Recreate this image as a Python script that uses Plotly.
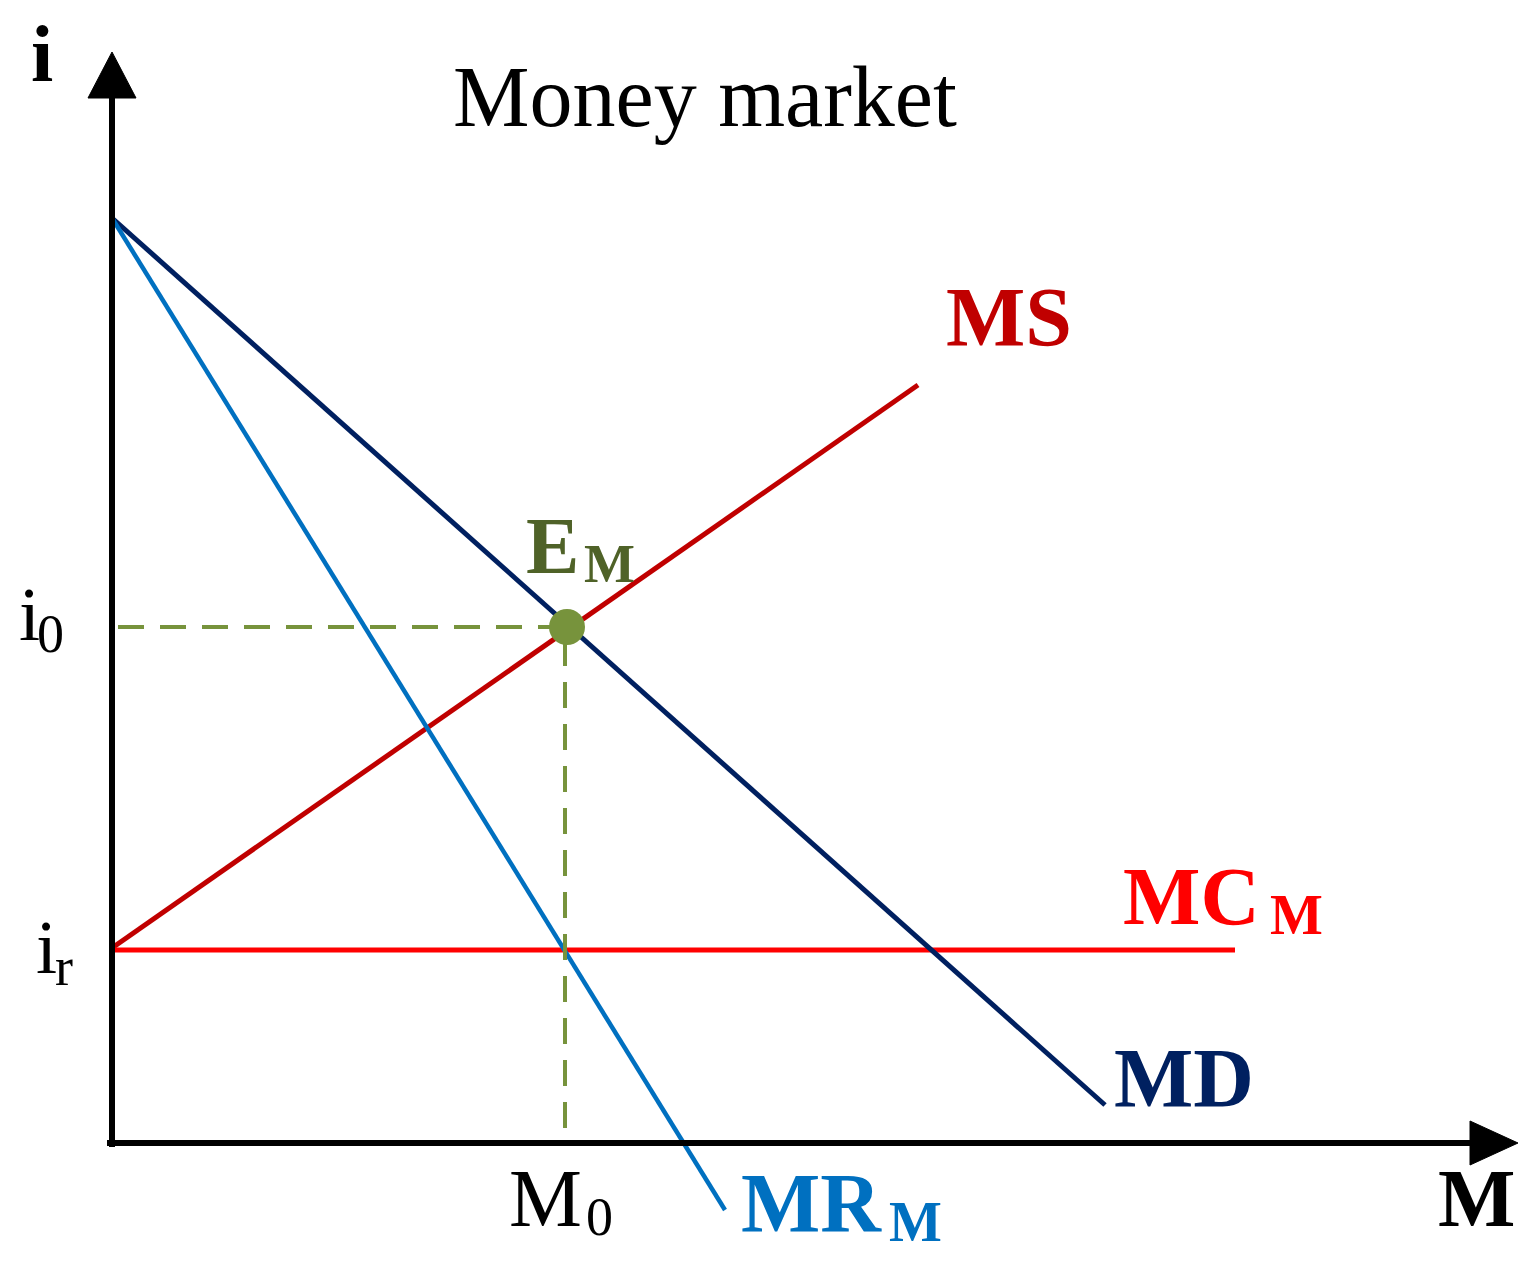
import plotly.graph_objects as go

W, H = 1535, 1270
FONT = "Liberation Serif"

# ---- data (economic units; origin at the axis corner) ----
md_x = [0.0, 9.93]
md_y = [9.25, 0.38]
mr_x = [0.0, 6.13]
mr_y = [9.25, -0.67]
ms_x = [0.0, 8.06]
ms_y = [1.95, 7.58]
mc_x = [0.0, 11.23]
mc_y = [1.93, 1.93]
e_x, e_y = 4.55, 5.16          # equilibrium E_M
m0 = 4.53                       # M0
i0 = 5.16                       # i0
ir = 1.93                       # ir

# view window: 1 unit = 100 px, origin at pixel (112, 1143)
OX, OY, S = 112, 1143, 100.0
X_RANGE = [(0 - OX) / S, (W - OX) / S]
Y_RANGE = [(OY - H) / S, OY / S]


def P(px, py):
    """pixel position -> data coordinates (for labels / decorations)"""
    return (px - OX) / S, (OY - py) / S


fig = go.Figure()

def line(x, y, color, width, dash=None):
    fig.add_trace(go.Scatter(x=x, y=y, mode="lines",
                             line=dict(color=color, width=width, dash=dash),
                             hoverinfo="skip", showlegend=False))

GREEN = "#77933C"
line(ms_x, ms_y, "#C00000", 5)
line(mc_x, mc_y, "#FF0000", 5)
line(md_x, md_y, "#002060", 5)
line(mr_x, mr_y, "#0070C0", 4.5)
# dashed guides from equilibrium
line([0.06, e_x - 0.12], [i0, i0], GREEN, 4, "26px,16px")
line([m0, m0], [i0 - 0.13, 0.15], GREEN, 4, "26px,16px")
fig.add_trace(go.Scatter(x=[e_x], y=[e_y], mode="markers",
                         marker=dict(size=36, color=GREEN),
                         hoverinfo="skip", showlegend=False))

# ---- axes with arrows ----
shapes = []
x0, y0 = P(112, 1147)
x1, y1 = P(112, 95)
shapes.append(dict(type="line", x0=0, y0=y0, x1=0, y1=y1,
                   line=dict(color="black", width=6)))
xa, _ = P(107, 0)
xb, _ = P(1476, 0)
shapes.append(dict(type="line", x0=xa, y0=0, x1=xb, y1=0,
                   line=dict(color="black", width=6)))

def tri(pts):
    d = "M " + " L ".join(f"{P(*p)[0]},{P(*p)[1]}" for p in pts) + " Z"
    return dict(type="path", path=d, fillcolor="black",
                line=dict(color="black", width=1))

shapes.append(tri([(112, 52), (88, 98), (136, 98)]))
shapes.append(tri([(1518, 1143), (1470, 1121), (1470, 1165)]))

# ---- labels ----
ann = []

def label(px, py, text, size, color="black", bold=False):
    x, y = P(px, py)
    t = f"<b>{text}</b>" if bold else text
    ann.append(dict(x=x, y=y, text=t, showarrow=False,
                    xanchor="center", yanchor="middle",
                    font=dict(family=FONT, size=size, color=color)))

label(42, 54, "i", 80, bold=True)
label(705, 97, "Money market", 86)
label(1009, 317, "MS", 84, "#C00000", bold=True)
label(552, 546, "E", 80, "#4F6228", bold=True)
label(609, 564, "M", 54, "#4F6228", bold=True)
label(29, 614, "i", 76)
label(50, 634, "0", 54)
label(46, 947, "i", 76)
label(64, 967, "r", 54)
label(1191, 896, "MC", 82, "#FF0000", bold=True)
label(1296, 915, "M", 56, "#FF0000", bold=True)
label(1184, 1078, "MD", 84, "#002060", bold=True)
label(545, 1198, "M", 82)
label(599, 1217, "0", 54)
label(811, 1203, "MR", 84, "#0070C0", bold=True)
label(915, 1222, "M", 56, "#0070C0", bold=True)
label(1476, 1198, "M", 82, bold=True)

fig.update_layout(
    width=W, height=H,
    margin=dict(l=0, r=0, t=0, b=0, pad=0),
    paper_bgcolor="white", plot_bgcolor="white",
    xaxis=dict(range=X_RANGE, visible=False, fixedrange=True),
    yaxis=dict(range=Y_RANGE, visible=False, fixedrange=True),
    shapes=shapes, annotations=ann, showlegend=False,
)

fig.write_html("out.html", post_script="document.body.style.margin='0';",
               config={"displayModeBar": False})
